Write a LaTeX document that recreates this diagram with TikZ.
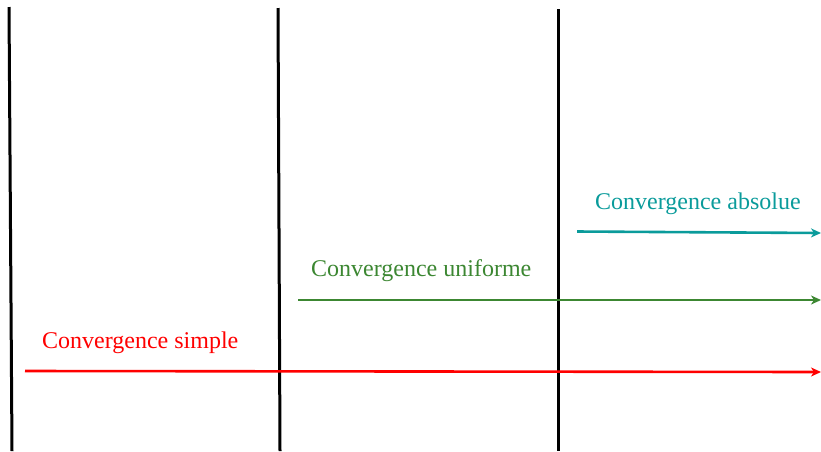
\documentclass[tikz,border=0pt]{standalone}
\usepackage{fontspec}
\setmainfont{Liberation Serif}
\usetikzlibrary{arrows.meta}
\definecolor{convred}{RGB}{255,0,0}
\definecolor{convgreen}{RGB}{60,135,50}
\definecolor{convteal}{RGB}{10,155,155}
\tikzset{
  divider/.style={draw=black, line width=3pt},
  convarrow/.style={line width=2.6pt, -{Stealth[length=10pt,width=9pt,inset=3pt]}},
  convlabel/.style={anchor=base west, inner sep=0pt, font=\fontsize{24}{28}\selectfont}
}
\begin{document}
\begin{tikzpicture}[x=1pt,y=-1pt]
  \useasboundingbox (0,0) rectangle (821,451);
  % three vertical separators
  \coordinate (d1t) at (9,7);   \coordinate (d1b) at (12,451);
  \coordinate (d2t) at (278,8); \coordinate (d2b) at (280,451);
  \coordinate (d3t) at (558,9); \coordinate (d3b) at (558,451);
  \draw[divider] (d1t) -- (d1b);
  \draw[divider] (d2t) -- (d2b);
  \draw[divider] (d3t) -- (d3b);
  % arrows
  \coordinate (rs) at (25,371);  \coordinate (re) at (821,372);
  \coordinate (gs) at (298,300); \coordinate (ge) at (821,300);
  \coordinate (ts) at (577,231.5); \coordinate (te) at (821,233);
  \draw[convarrow, convred] (rs) -- (re);
  \draw[convarrow, convgreen] (gs) -- (ge);
  \draw[convarrow, convteal] (ts) -- (te);
  % labels
  \node[convlabel, text=convred] (ls) at (42,348) {Convergence simple};
  \node[convlabel, text=convgreen] (lu) at (311,276) {Convergence uniforme};
  \node[convlabel, text=convteal] (la) at (595,209) {Convergence absolue};
\end{tikzpicture}
\end{document}
